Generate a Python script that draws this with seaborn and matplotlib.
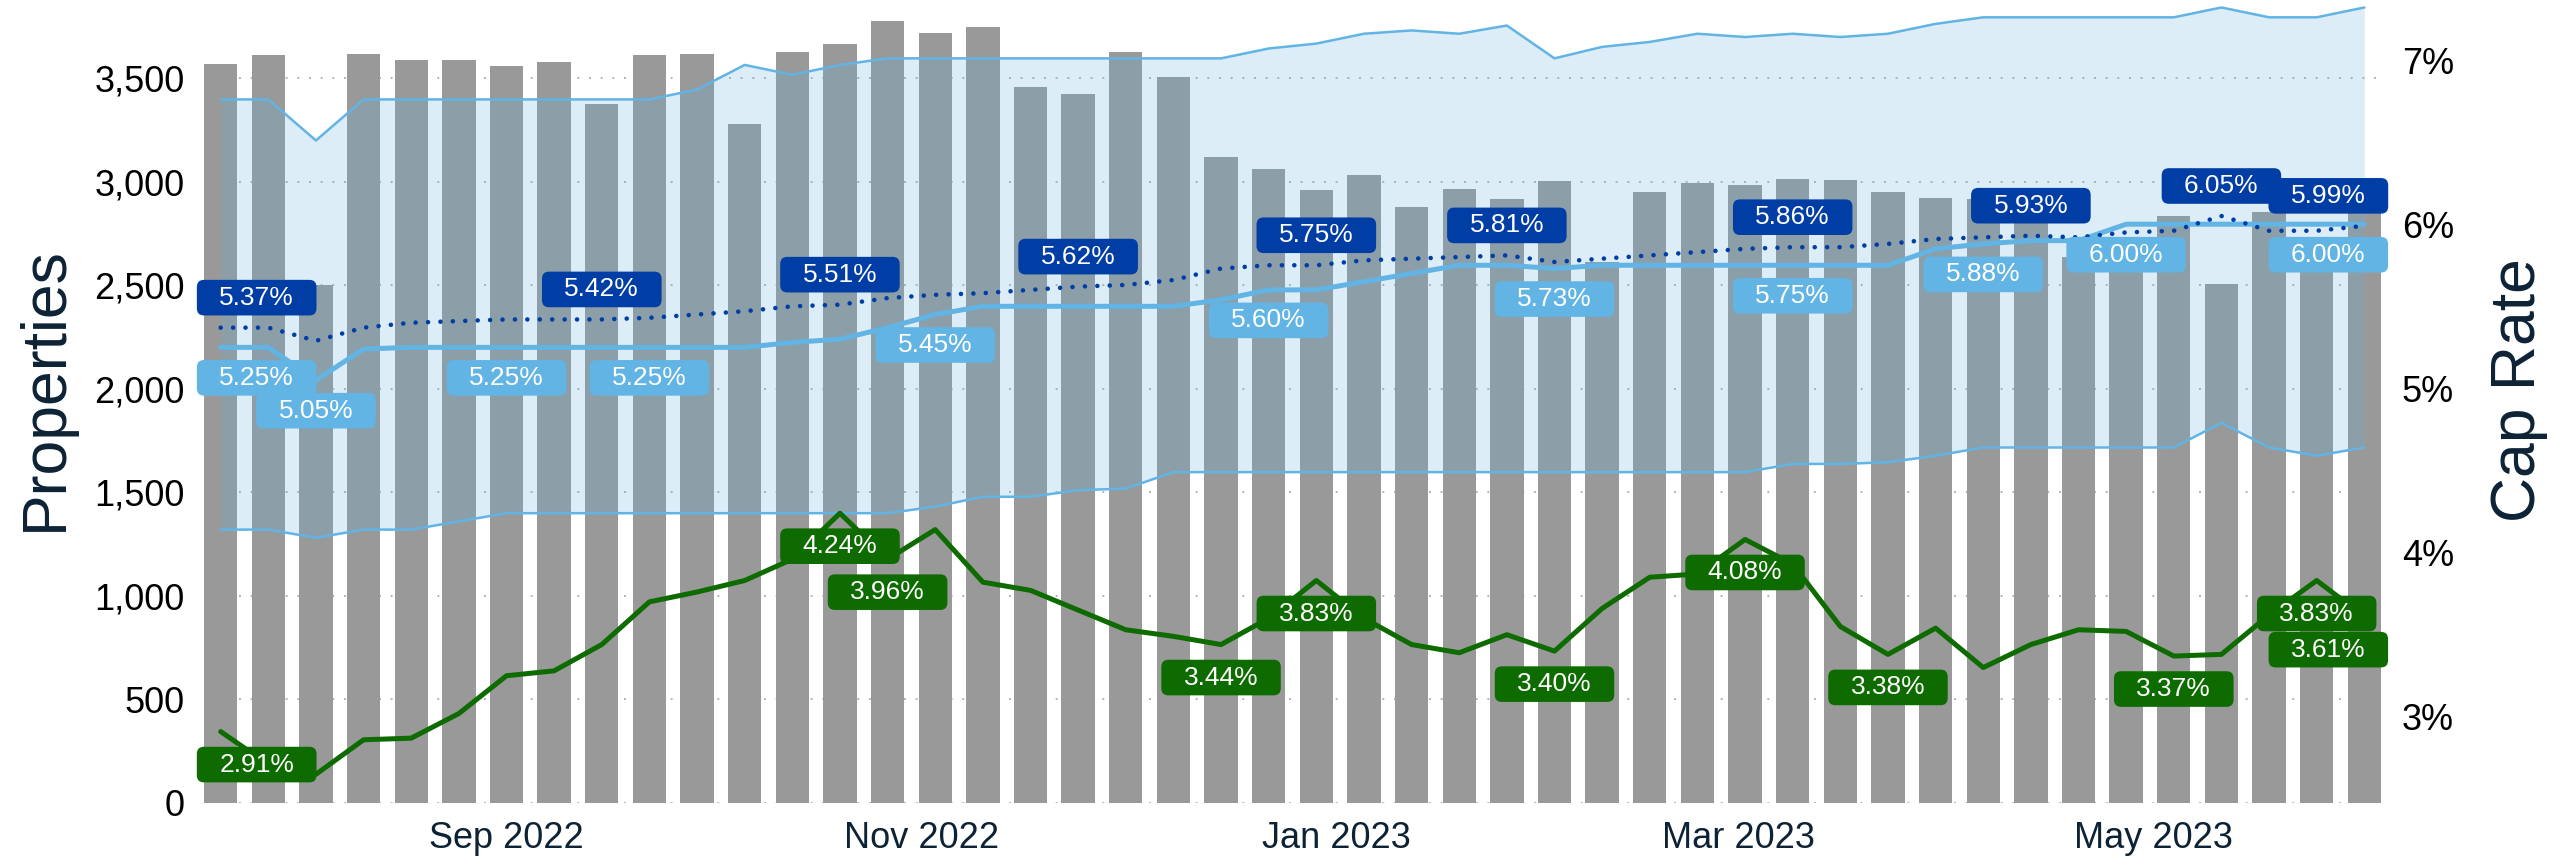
import numpy as np
import pandas as pd
import matplotlib
matplotlib.use("Agg")
import matplotlib.pyplot as plt
import seaborn as sns
from matplotlib.patches import BoxStyle

# ---------------- data ----------------
weeks = pd.date_range("2022-07-21", periods=46, freq="7D")

properties = [3570, 3613, 2502, 3618, 3589, 3589, 3560, 3580, 3377, 3613,
              3618, 3280, 3628, 3668, 3778, 3720, 3749, 3459, 3424, 3628,
              3507, 3121, 3063, 2961, 3034, 2879, 2966, 2918, 3005, 2615,
              2950, 2995, 2986, 3015, 3010, 2952, 2923, 2918, 2900, 2638,
              2650, 2836, 2507, 2855, 2650, 2950]

cap_high = [6.76, 6.76, 6.51, 6.76, 6.76, 6.76, 6.76, 6.76, 6.76, 6.76,
            6.82, 6.97, 6.91, 6.97, 7.01, 7.01, 7.01, 7.01, 7.01, 7.01,
            7.01, 7.01, 7.07, 7.10, 7.16, 7.18, 7.16, 7.21, 7.01, 7.08,
            7.11, 7.16, 7.14, 7.16, 7.14, 7.16, 7.22, 7.26, 7.26, 7.26,
            7.26, 7.26, 7.32, 7.26, 7.26, 7.32]

cap_low = [4.14, 4.14, 4.09, 4.14, 4.14, 4.19, 4.24, 4.24, 4.24, 4.24,
           4.24, 4.24, 4.24, 4.24, 4.24, 4.28, 4.34, 4.34, 4.38, 4.39,
           4.49, 4.49, 4.49, 4.49, 4.49, 4.49, 4.49, 4.49, 4.49, 4.49,
           4.49, 4.49, 4.49, 4.54, 4.54, 4.55, 4.59, 4.64, 4.64, 4.64,
           4.64, 4.64, 4.79, 4.64, 4.59, 4.64]

cap_median = [5.25, 5.25, 5.05, 5.24, 5.25, 5.25, 5.25, 5.25, 5.25, 5.25,
              5.25, 5.25, 5.28, 5.30, 5.37, 5.45, 5.50, 5.50, 5.50, 5.50,
              5.50, 5.54, 5.60, 5.60, 5.65, 5.70, 5.75, 5.75, 5.73, 5.75,
              5.75, 5.75, 5.75, 5.75, 5.75, 5.75, 5.85, 5.88, 5.90, 5.90,
              6.00, 6.00, 6.00, 6.00, 6.00, 6.00]

cap_average = [5.37, 5.37, 5.29, 5.37, 5.40, 5.41, 5.42, 5.42, 5.42, 5.43,
               5.45, 5.47, 5.50, 5.51, 5.55, 5.57, 5.58, 5.60, 5.62, 5.63,
               5.66, 5.73, 5.75, 5.75, 5.78, 5.79, 5.80, 5.81, 5.77, 5.79,
               5.81, 5.83, 5.85, 5.86, 5.86, 5.88, 5.91, 5.92, 5.93, 5.92,
               5.95, 5.96, 6.05, 5.96, 5.96, 5.99]

treasury = [2.91, 2.71, 2.65, 2.86, 2.87, 3.02, 3.25, 3.28, 3.44, 3.70,
            3.76, 3.83, 3.96, 4.24, 3.96, 4.14, 3.82, 3.77, 3.65, 3.53,
            3.49, 3.44, 3.60, 3.83, 3.60, 3.44, 3.39, 3.50, 3.40, 3.66,
            3.85, 3.87, 4.08, 3.93, 3.55, 3.38, 3.54, 3.30, 3.44, 3.53,
            3.52, 3.37, 3.38, 3.62, 3.83, 3.61]

average_label_idx = [0, 8, 13, 18, 23, 27, 33, 38, 42, 45]
median_label_idx = [0, 2, 6, 9, 15, 22, 28, 33, 37, 40, 45]
treasury_label_idx = [0, 13, 14, 21, 23, 28, 32, 35, 41, 44, 45]

tick_months = ["2022-09-01", "2022-11-01", "2023-01-01", "2023-03-01", "2023-05-01"]
tick_labels = ["Sep 2022", "Nov 2022", "Jan 2023", "Mar 2023", "May 2023"]
left_ticks = [0, 500, 1000, 1500, 2000, 2500, 3000, 3500]
right_ticks = [3, 4, 5, 6, 7]

# ---------------- style ----------------
GRAY = "#999999"
LIGHT = "#62b4e4"
DARK = "#003da5"
GREEN = "#0e6b00"
NAVY = "#0d2235"

sns.set_theme(style="white")
plt.rcParams["font.family"] = ["Liberation Sans", "DejaVu Sans"]

W, H = 2554, 858
fig = plt.figure(figsize=(W / 100, H / 100), dpi=100)
ax = fig.add_axes([204 / W, 55 / H, 2177 / W, 798 / H])

n = len(properties)
x = np.arange(n)
df = pd.DataFrame({"week": x, "properties": properties})
sns.barplot(data=df, x="week", y="properties", color=GRAY, saturation=1,
            width=0.7, linewidth=0, ax=ax)

ax.set_axisbelow(True)
ax.yaxis.grid(True, color="#b4b4b4", linestyle=(0, (1, 5)), linewidth=1.4)
ax.xaxis.grid(False)
for s in ax.spines.values():
    s.set_visible(False)
ax.set_ylim(0, 3855)
ax.set_yticks(left_ticks)
ax.set_yticklabels([f"{v:,}" for v in left_ticks])
ax.set_xlabel("")
ax.set_ylabel("")
tick_pos = [(pd.Timestamp(m) - weeks[0]).days / 7 for m in tick_months]
ax.set_xticks(tick_pos)
ax.set_xticklabels(tick_labels)
ax.tick_params(axis="x", length=0, pad=13, labelsize=26, labelcolor=NAVY)
ax.tick_params(axis="y", length=0, pad=14, labelsize=26, labelcolor="#000000")

# ---------------- cap rate axis ----------------
ax2 = ax.twinx()
ax2.fill_between(x, cap_low, cap_high, color="#62b0e0", alpha=0.22,
                 linewidth=0, zorder=1)
sns.lineplot(x=x, y=cap_high, ax=ax2, color=LIGHT, linewidth=1.8, zorder=2)
sns.lineplot(x=x, y=cap_low, ax=ax2, color=LIGHT, linewidth=1.8, zorder=2)
sns.lineplot(x=x, y=cap_median, ax=ax2, color=LIGHT, linewidth=3.6, zorder=3)
sns.lineplot(x=x, y=cap_average, ax=ax2, color=DARK, linewidth=3.3, zorder=3)
dotted = ax2.get_lines()[-1]
dotted.set_linestyle((0, (0.01, 2.7)))
dotted.set_dash_capstyle("round")
sns.lineplot(x=x, y=treasury, ax=ax2, color=GREEN, linewidth=3.6, zorder=3)

for s in ax2.spines.values():
    s.set_visible(False)
ax2.grid(False)
ax2.set_ylim(2.475, 7.335)
ax2.set_yticks(right_ticks)
ax2.set_yticklabels([f"{v}%" for v in right_ticks])
ax2.tick_params(axis="y", length=0, pad=15, labelsize=26, labelcolor="#000000")
ax2.set_ylabel("")
ax2.set_xlabel("")
ax.set_xlim(-0.35, n - 1 + 0.35)

# ---------------- value labels ----------------
_round = BoxStyle.Round(pad=0.0, rounding_size=0.27)


def pill(x0, y0, width, height, mutation_size):
    px = 0.85 * mutation_size
    py = 0.22 * mutation_size
    return _round(x0 - px, y0 - py, width + 2 * px, height + 2 * py, mutation_size)


def put_labels(series, idx_list, color, dy, z):
    for i in idx_list:
        dx = 0
        if i == 0:
            dx = 36
        elif i == n - 1:
            dx = -36
        ax2.annotate(f"{series[i]:.2f}%", xy=(i, series[i]), xytext=(dx, dy),
                     textcoords="offset pixels", ha="center", va="center",
                     color="white", fontsize=19, zorder=z,
                     bbox=dict(boxstyle=pill, fc=color, ec="none"))


put_labels(treasury, treasury_label_idx, GREEN, -33, 5)
put_labels(cap_median, median_label_idx, LIGHT, -30.5, 6)
put_labels(cap_average, average_label_idx, DARK, 30, 7)

# ---------------- axis titles ----------------
fig.text(45 / W, 1 - 389 / H, "Properties", rotation=90, ha="center",
         va="center", fontsize=45, color=NAVY)
fig.text(2518 / W, 1 - 390 / H, "Cap Rate", rotation=90, ha="center",
         va="center", fontsize=45, color=NAVY)

fig.savefig("out.png", dpi=100)
